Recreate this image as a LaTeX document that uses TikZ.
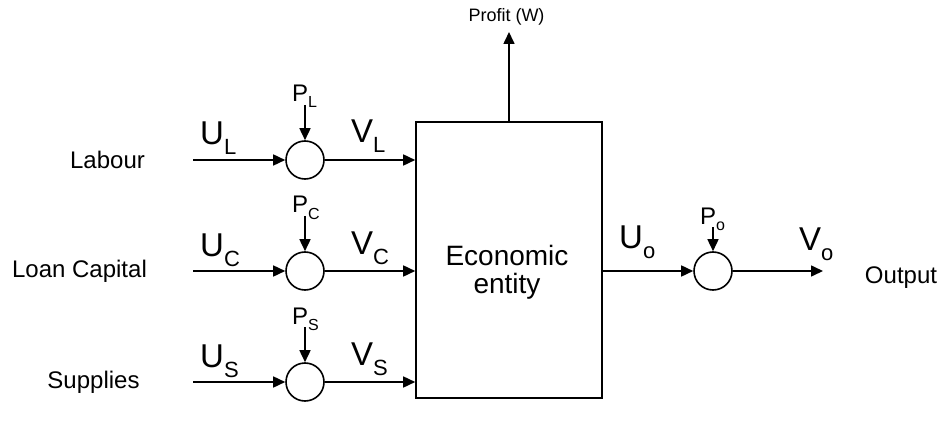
\documentclass[tikz,border=0pt]{standalone}
\usepackage{fontspec}
\setmainfont{Liberation Sans}
\usetikzlibrary{arrows.meta}
\newcommand{\biglab}[2]{{\fontsize{33}{33}\selectfont #1}\raisebox{-10pt}{\fontsize{22}{22}\selectfont #2}}
\newcommand{\smlab}[2]{{\fontsize{24}{24}\selectfont #1}\raisebox{-6pt}{\fontsize{16}{16}\selectfont #2}}
\begin{document}
\begin{tikzpicture}[x=1pt,y=-1pt,
  conn/.style={line width=1.6pt,-{Triangle[length=12pt,width=11pt]}},
  junc/.style={circle,draw,line width=1.6pt,minimum size=38pt,inner sep=0pt},
  txt/.style={font=\fontsize{24}{24}\selectfont,inner sep=0pt},
  sym/.style={inner sep=0pt,anchor=base west}]
\useasboundingbox (0,0) rectangle (942,422);
\node[draw,line width=1.6pt,minimum width=186pt,minimum height=276pt,inner sep=0pt] (box) at (509,260) {};
\node[align=center,inner sep=0pt,font=\fontsize{28}{28}\selectfont] (etext) at (507,272) {Economic\\entity};
% rows
\foreach \n/\y/\s/\lbl/\lx in {L/160/L/Labour/107.5, C/271/C/Loan Capital/79.5, S/382/S/Supplies/93.5}{
  \node[junc] (j\n) at (305,\y) {};
  \coordinate (in\n) at (193,\y);
  \node[txt] (lab\n) at (\lx,\y) {\lbl};
  \draw[conn] (in\n) -- (j\n);
  \draw[conn] (j\n) -- (box.west |- j\n);
  \coordinate (p\n) at (305,\y-55);
  \draw[conn] (p\n) -- (j\n);
  \node[sym] (pl\n) at (292,\y-58) {\smlab{P}{\s}};
  \node[sym] (u\n) at (200,\y-15) {\biglab{U}{\s}};
  \node[sym] (v\n) at (351,\y-17) {\biglab{V}{\s}};
}
\node[junc] (jo) at (713,271) {};
\draw[conn] (box.east |- jo) -- (jo);
\coordinate (outend) at (823,271);
\draw[conn] (jo) -- (outend);
\coordinate (po) at (713,227);
\draw[conn] (po) -- (jo);
\node[sym] (plo) at (700,224) {\smlab{P}{o}};
\node[sym] (uo) at (619,248) {\biglab{U}{o}};
\node[sym] (vo) at (799,250) {\biglab{V}{o}};
\node[txt] (outlab) at (901,278) {Output};
\coordinate (pr) at (509,32);
\draw[conn] (box.north) -- (pr);
\node[inner sep=0pt,anchor=base,font=\fontsize{18}{18}\selectfont] (profit) at (506.5,22) {Profit (W)};
\end{tikzpicture}
\end{document}
